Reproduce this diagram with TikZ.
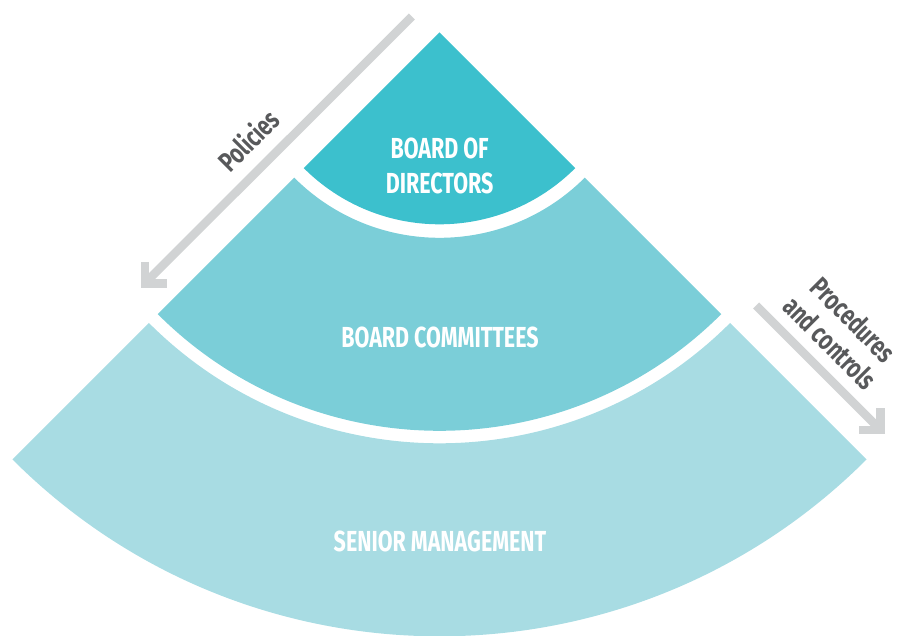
\documentclass[tikz,border=0pt]{standalone}
\usepackage{fontspec}
\newfontfamily\condfont{Fira Sans}[FakeStretch=0.74]
\usetikzlibrary{calc}

\definecolor{bandTop}{RGB}{60,192,205}
\definecolor{bandMid}{RGB}{123,206,216}
\definecolor{bandLow}{RGB}{168,220,227}
\definecolor{flowGray}{RGB}{209,211,212}
\definecolor{labelGray}{RGB}{88,89,91}

\begin{document}
\begin{tikzpicture}[x=1pt,y=-1pt,
  bandlabel/.style={text=white, inner sep=0pt, align=center,
    font=\condfont\bfseries\fontsize{29}{35}\selectfont},
  flowlabel/.style={text=labelGray, inner sep=0pt, align=center,
    font=\condfont\bfseries\fontsize{28}{33}\selectfont},
  flowline/.style={draw=flowGray, line width=8.5pt, line cap=butt, line join=miter},
]
\useasboundingbox (0,0) rectangle (900,635);

% apex of the fan; every band is a ring sector around it
\coordinate (apex) at (439.5,32.3);

% top band: board of directors
\fill[bandTop] (apex) -- ($(apex)+(45:192)$) arc[start angle=45, end angle=135, radius=192] -- cycle;
% middle band: board committees
\fill[bandMid] ($(apex)+(45:398.5)$) arc[start angle=45, end angle=135, radius=398.5]
  -- ($(apex)+(135:205.5)$) arc[start angle=135, end angle=45, radius=205.5] -- cycle;
% bottom band: senior management
\fill[bandLow] ($(apex)+(45:604)$) arc[start angle=45, end angle=135, radius=604]
  -- ($(apex)+(135:411)$) arc[start angle=135, end angle=45, radius=411] -- cycle;

% band labels
\node[bandlabel] (board) at (439.6,165.5) {BOARD OF\\DIRECTORS};
\node[bandlabel, anchor=base] (committees) at (440,347.3) {BOARD COMMITTEES};
\node[bandlabel, anchor=base] (senior) at (440,551) {SENIOR MANAGEMENT};

% flow arrows
\coordinate (polTail) at (411.8,16.5);
\coordinate (polHead) at (144.9,283.3);
\coordinate (procTail) at (756.2,305.5);
\coordinate (procHead) at (880.7,430);

\draw[flowline] (polTail) -- ($(polHead)+(2,-2)$);
\draw[flowline] ($(polHead)+(0,-21.5)$) -- (polHead) -- ($(polHead)+(22.2,0)$);
\draw[flowline] (procTail) -- ($(procHead)+(-2,-2)$);
\draw[flowline] ($(procHead)+(0,-21.8)$) -- (procHead) -- ($(procHead)+(-21.4,0)$);

% flow labels
\node[flowlabel, rotate=45] (policies) at (248,140) {Policies};
\node[flowlabel, rotate=-45] (procedures) at (842,331) {Procedures\\and controls};
\end{tikzpicture}
\end{document}
